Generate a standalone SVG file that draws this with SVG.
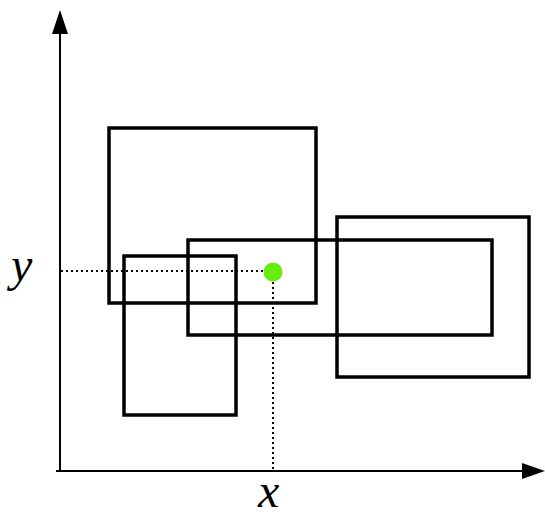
<svg xmlns="http://www.w3.org/2000/svg" width="545" height="518" viewBox="0 0 545 518">
<style>
.box{fill:none;stroke:#000;stroke-width:3.5}
.axis{fill:none;stroke:#000;stroke-width:2}
.dot{fill:none;stroke:#000;stroke-width:2;stroke-dasharray:2 3}
.lbl{font-family:"Liberation Serif",serif;font-style:italic;font-size:48px;fill:#000}
</style>
<rect width="545" height="518" fill="#fff"/>
<g id="connectors">
<line class="axis" x1="60" y1="472" x2="60" y2="30"/>
<polygon points="60,10 52,34 68,34" fill="#000"/>
<line class="axis" x1="56" y1="471" x2="526" y2="471"/>
<polygon points="545,471 522,463 522,479" fill="#000"/>
<line class="dot" x1="61" y1="271" x2="265" y2="271"/>
<line class="dot" x1="273" y1="282" x2="273" y2="470"/>
</g>
<g id="rect1"><rect class="box" x="109" y="128" width="207" height="175"/></g>
<g id="rect2"><rect class="box" x="188" y="240" width="304" height="95"/></g>
<g id="rect3"><rect class="box" x="124" y="256" width="112" height="159"/></g>
<g id="rect4"><rect class="box" x="337" y="217" width="192" height="160"/></g>
<g id="point"><circle cx="273" cy="272" r="9.5" fill="#66ee11"/></g>
<g id="label-y"><text class="lbl" x="11" y="281">y</text></g>
<g id="label-x"><text class="lbl" x="258" y="507">x</text></g>
</svg>
